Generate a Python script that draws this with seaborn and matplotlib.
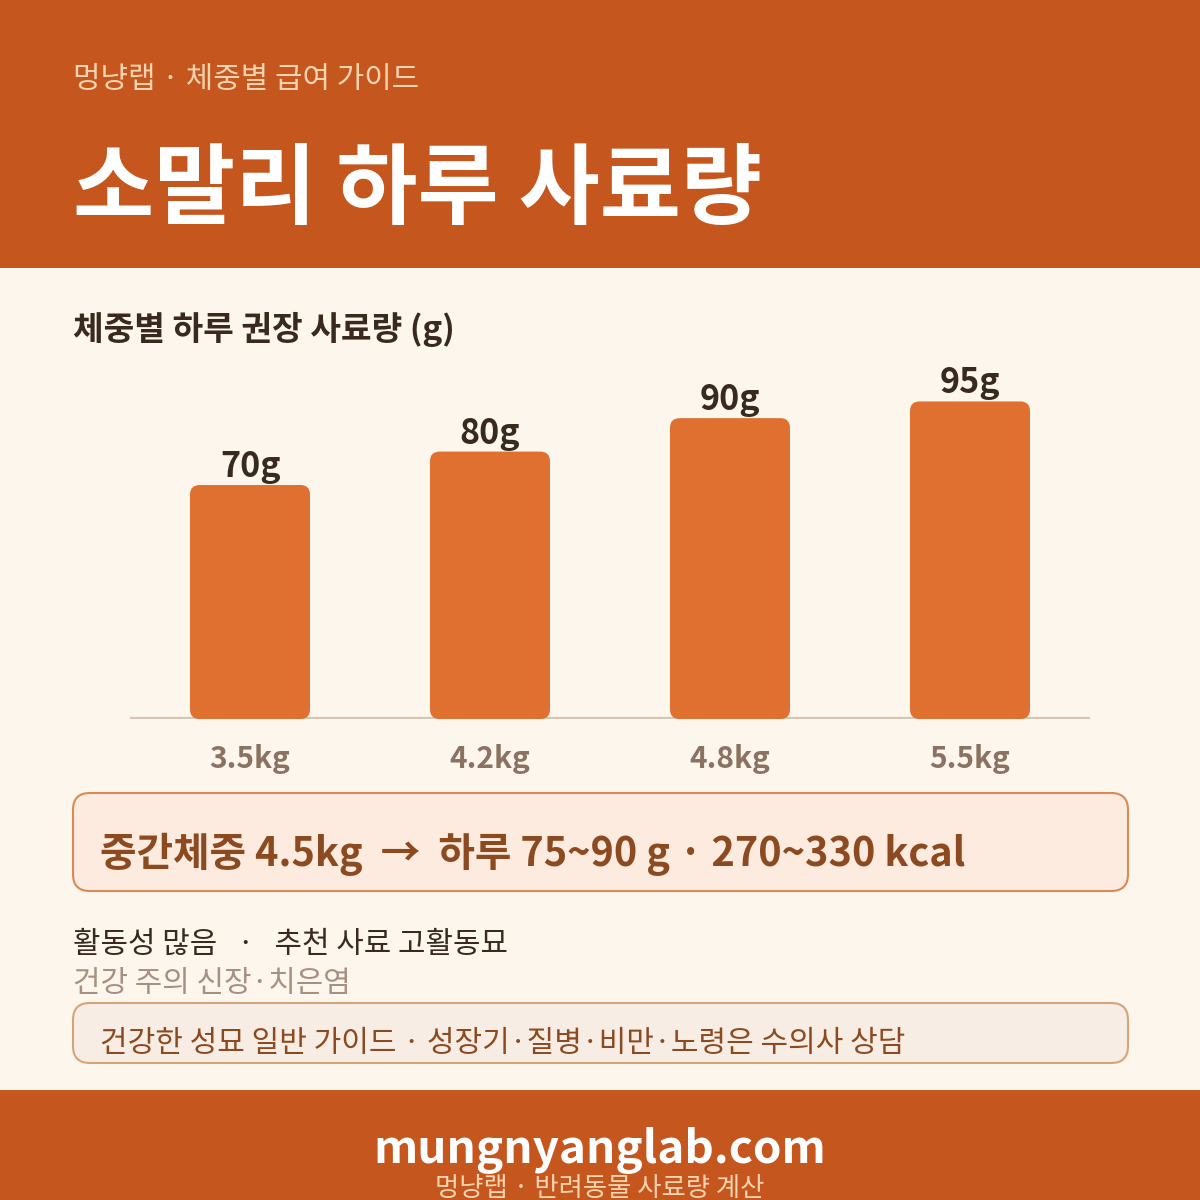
import numpy as np
import pandas as pd
import seaborn as sns
import matplotlib.pyplot as plt
from matplotlib.patches import Rectangle, FancyBboxPatch

# --- data ---
weights = ['3.5kg', '4.2kg', '4.8kg', '5.5kg']
grams = [70, 80, 90, 95]
bar_labels = ['70g', '80g', '90g', '95g']

header_sub = '멍냥랩 · 체중별 급여 가이드'
header_title = '소말리 하루 사료량'
chart_title = '체중별 하루 권장 사료량 (g)'
callout = '중간체중 4.5kg  →  하루 75~90 g · 270~330 kcal'
info_line1 = '활동성 많음   ·   추천 사료 고활동묘'
info_line2 = '건강 주의 신장·치은염'
note = '건강한 성묘 일반 가이드 · 성장기·질병·비만·노령은 수의사 상담'
footer_url = 'mungnyanglab.com'
footer_sub = '멍냥랩 · 반려동물 사료량 계산'

# --- colours ---
ORANGE_DARK = '#C4561E'
BAR = '#E07030'
CREAM = '#FDF6EC'
DARK = '#3A2A1E'
BROWN = '#8B4A20'
PEACH = '#F8D3B0'
MUTED = '#A89080'
TICK = '#8B7262'

sns.set_theme(style='white')
plt.rcParams['font.family'] = ['Noto Sans CJK KR', 'DejaVu Sans']

W = H = 1200
fig = plt.figure(figsize=(12, 12), dpi=100, facecolor=CREAM)


def fx(x):
    return x / W


def fy(y):
    return 1 - y / H


# header / footer bands
fig.patches.append(Rectangle((0, fy(268)), 1, 268 / H, transform=fig.transFigure,
                             facecolor=ORANGE_DARK, edgecolor='none', zorder=0))
fig.patches.append(Rectangle((0, 0), 1, 110 / H, transform=fig.transFigure,
                             facecolor=ORANGE_DARK, edgecolor='none', zorder=0))

fig.text(fx(73), fy(79), header_sub, color=PEACH, fontsize=21.5, va='center')
fig.text(fx(73), fy(191), header_title, color='white', fontsize=63.5,
         fontweight='bold', va='center')
fig.text(fx(73), fy(329), chart_title, color=DARK, fontsize=24,
         fontweight='bold', va='center')

# --- bar chart ---
y0, y1 = 719, 351.3
ax = fig.add_axes([fx(130), fy(y0), 960 / W, (y0 - y1) / H])
ax.set_facecolor('none')
df = pd.DataFrame({'weight': weights, 'grams': grams})
sns.barplot(data=df, x='weight', y='grams', color=BAR, saturation=1,
            width=0.5, ax=ax)
ax.set_xlim(-0.5, 3.5)
ax.set_ylim(0, 110)

# swap plain bars for rounded ones
px_per_x = 960 / 4
px_per_y = (y0 - y1) / 110
aspect = (1 / px_per_y) / (1 / px_per_x)
for p in list(ax.patches):
    x, w, h = p.get_x(), p.get_width(), p.get_height()
    p.remove()
    ax.add_patch(FancyBboxPatch((x, 0), w, h,
                                boxstyle='round,pad=0,rounding_size=0.04',
                                mutation_aspect=aspect, facecolor=BAR,
                                edgecolor='none', zorder=2))

for i, (v, lab) in enumerate(zip(grams, bar_labels)):
    ax.text(i, v + 8 / px_per_y, lab, ha='center', va='baseline',
            fontsize=24.5, fontweight='bold', color=DARK, zorder=3)

ax.axhline(0, color='#D5C5B5', lw=3, zorder=1)
sns.despine(ax=ax, left=True, bottom=True)
ax.set_yticks([])
ax.set_xlabel('')
ax.set_ylabel('')
ax.tick_params(axis='x', length=0, pad=18)
for t in ax.get_xticklabels():
    t.set_fontsize(21.5)
    t.set_fontweight('bold')
    t.set_color(TICK)

# --- callout box ---
fig.patches.append(FancyBboxPatch((fx(73), fy(891)), (1128 - 73) / W, (891 - 793) / H,
                                  boxstyle='round,pad=0,rounding_size=0.014',
                                  transform=fig.transFigure, facecolor='#FDEBDF',
                                  edgecolor='#D98A55', lw=1.5))
fig.text(fx(100), fy(854), callout, color=BROWN, fontsize=28.6,
         fontweight='bold', va='center')

fig.text(fx(73), fy(944), info_line1, color=DARK, fontsize=21.5, va='center')
fig.text(fx(73), fy(984), info_line2, color=MUTED, fontsize=21.5, va='center')

fig.patches.append(FancyBboxPatch((fx(73), fy(1063)), (1128 - 73) / W, (1063 - 1003) / H,
                                  boxstyle='round,pad=0,rounding_size=0.014',
                                  transform=fig.transFigure, facecolor='#F8EDE4',
                                  edgecolor='#D4A47A', lw=1.5))
fig.text(fx(100), fy(1043), note, color=BROWN, fontsize=21.6, va='center')

# --- footer ---
fig.text(0.5, fy(1150), footer_url, color='white', fontsize=33,
         fontweight='bold', ha='center', va='center')
fig.text(0.5, fy(1188), footer_sub, color=PEACH, fontsize=19,
         ha='center', va='center')

fig.savefig('out.png', dpi=100, facecolor=CREAM)
